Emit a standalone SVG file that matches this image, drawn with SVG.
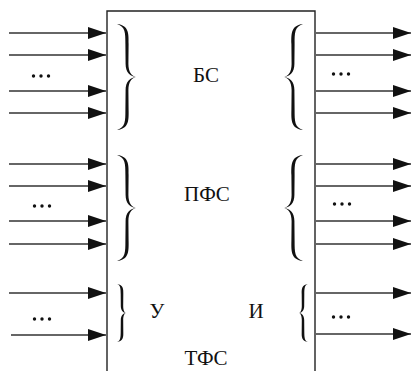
<svg xmlns="http://www.w3.org/2000/svg" xmlns:xlink="http://www.w3.org/1999/xlink" width="412" height="371" viewBox="0 0 412 371">
<style>
.ln{stroke:#222;stroke-width:1.4;fill:none}
.arr{stroke:#333;stroke-width:1.4;fill:none;marker-end:url(#ah)}
.br{fill:#111;stroke:none}
.dot{fill:#111}
text{font-family:"Liberation Serif","Times New Roman",serif;font-size:21px;fill:#111;text-anchor:middle}
</style>
<defs>
<marker id="ah" markerUnits="userSpaceOnUse" markerWidth="18" markerHeight="12" refX="18" refY="6" orient="auto">
<path d="M0,0 L18,6 L0,12 Z" fill="#111"/>
</marker>
<path id="bigBrace" d="M0,0 C11.8,1.5 11.8,9 11.6,20 L11.4,40 C11.4,48 15,53 20,53 C15,53 11.4,58 11.4,66 L11.6,86 C11.8,97 11.8,104.5 0,106 C8.4,103.5 8.4,97 8.4,86 L8.6,66 C8.6,58 13,53 20,53 C13,53 8.6,48 8.6,40 L8.4,20 C8.4,9 8.4,2.5 0,0 Z"/>
<path id="smallBrace" d="M0,0 C6.4,1 6.4,5 6.3,10 L6.2,22 C6.2,26 7.5,29 9,29 C7.5,29 6.2,32 6.2,36 L6.3,48 C6.4,53 6.4,57 0,58 C3.6,57 3.6,53 3.7,48 L3.8,36 C3.8,32 6,29 9,29 C6,29 3.8,26 3.8,22 L3.7,10 C3.6,5 3.6,1 0,0 Z"/>
</defs>
<rect width="412" height="371" fill="#fff"/>
<g id="tfs-block">
<path class="ln" d="M107,371 V11 H315 V371"/>
<text x="206" y="365">ТФС</text>
</g>
<g id="bs">
<use xlink:href="#bigBrace" class="br" transform="translate(117,24)"/>
<use xlink:href="#bigBrace" class="br" transform="translate(303,24) scale(-1,1)"/>
<text x="206" y="82">БС</text>
</g>
<g id="pfs">
<use xlink:href="#bigBrace" class="br" transform="translate(117,155)"/>
<use xlink:href="#bigBrace" class="br" transform="translate(303,155) scale(-1,1)"/>
<text x="207" y="201">ПФС</text>
</g>
<g id="u">
<use xlink:href="#smallBrace" class="br" transform="translate(117,284)"/>
<text x="157" y="318">У</text>
</g>
<g id="i">
<use xlink:href="#smallBrace" class="br" transform="translate(308,284) scale(-1,1)"/>
<text x="256" y="318">И</text>
</g>
<g id="connectors">
<line class="arr" x1="9" y1="33" x2="106" y2="33"/>
<line class="arr" x1="9" y1="55" x2="106" y2="55"/>
<line class="arr" x1="9" y1="91" x2="106" y2="91"/>
<line class="arr" x1="9" y1="113" x2="106" y2="113"/>
<line class="arr" x1="9" y1="164" x2="106" y2="164"/>
<line class="arr" x1="9" y1="186" x2="106" y2="186"/>
<line class="arr" x1="9" y1="221" x2="106" y2="221"/>
<line class="arr" x1="9" y1="244" x2="106" y2="244"/>
<line class="arr" x1="9" y1="293" x2="106" y2="293"/>
<line class="arr" x1="11" y1="335" x2="106" y2="335"/>
<line class="arr" x1="316" y1="33" x2="411" y2="33"/>
<line class="arr" x1="316" y1="55" x2="411" y2="55"/>
<line class="arr" x1="316" y1="91" x2="411" y2="91"/>
<line class="arr" x1="316" y1="113" x2="411" y2="113"/>
<line class="arr" x1="316" y1="164" x2="411" y2="164"/>
<line class="arr" x1="316" y1="186" x2="411" y2="186"/>
<line class="arr" x1="316" y1="221" x2="411" y2="221"/>
<line class="arr" x1="316" y1="244" x2="411" y2="244"/>
<line class="arr" x1="316" y1="293" x2="411" y2="293"/>
<line class="arr" x1="316" y1="334" x2="411" y2="334"/>
</g>
<g id="dots">
<circle class="dot" cx="33.5" cy="76" r="1.7"/><circle class="dot" cx="41" cy="76" r="1.7"/><circle class="dot" cx="48.5" cy="76" r="1.7"/>
<circle class="dot" cx="333.5" cy="74" r="1.7"/><circle class="dot" cx="341" cy="74" r="1.7"/><circle class="dot" cx="348.5" cy="74" r="1.7"/>
<circle class="dot" cx="34.5" cy="206" r="1.7"/><circle class="dot" cx="42" cy="206" r="1.7"/><circle class="dot" cx="49.5" cy="206" r="1.7"/>
<circle class="dot" cx="334.5" cy="204" r="1.7"/><circle class="dot" cx="342" cy="204" r="1.7"/><circle class="dot" cx="349.5" cy="204" r="1.7"/>
<circle class="dot" cx="34.5" cy="319" r="1.7"/><circle class="dot" cx="42" cy="319" r="1.7"/><circle class="dot" cx="49.5" cy="319" r="1.7"/>
<circle class="dot" cx="333.5" cy="317" r="1.7"/><circle class="dot" cx="341" cy="317" r="1.7"/><circle class="dot" cx="348.5" cy="317" r="1.7"/>
</g>
</svg>
